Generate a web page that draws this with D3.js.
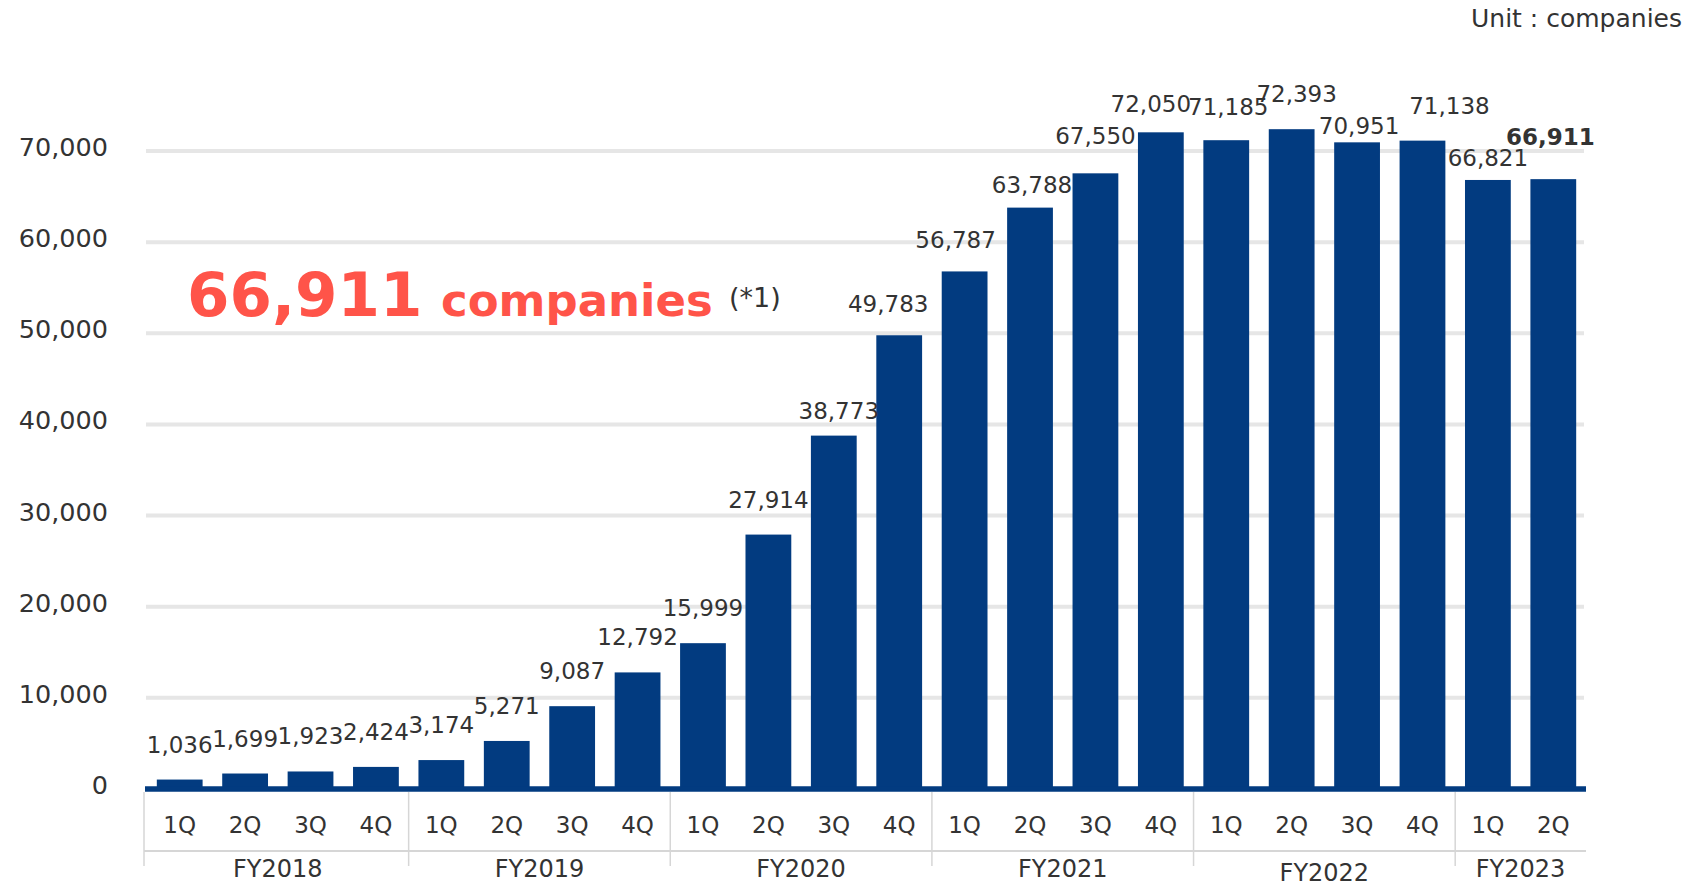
<!DOCTYPE html>
<html><head><meta charset="utf-8">
<script src="https://cdn.jsdelivr.net/npm/d3@7"></script>
<style>body{margin:0;background:#fff;}svg{display:block;font-family:"DejaVu Sans",Verdana,sans-serif;}</style>
</head><body>
<svg id="chart" width="1695" height="888"></svg>
<script>
const fiscalYears = ["FY2018","FY2019","FY2020","FY2021","FY2022","FY2023"];
const quartersPerYear = [4,4,4,4,4,2];
const quarterNames = ["1Q","2Q","3Q","4Q"];
const values = [1036,1699,1923,2424, 3174,5271,9087,12792, 15999,27914,38773,49783,
                56787,63788,67550,72050, 71185,72393,70951,71138, 66821,66911];
const yTicks = [0,10000,20000,30000,40000,50000,60000,70000];
// label nudges (annotation offsets, px)
const labelDx = [0,0,0,0, 0,0,0,0, 0,0,5,-11, -9,2,0,-10, 2,5,2,27, 0,-3];
const labelDy = [0,0,0,0, 0,0,0,0, 0,0,10,4, 4,12,-2,7, 2,0,19,0, 13,-7];

const cats = [];
fiscalYears.forEach((fy,i)=>{ for(let q=0;q<quartersPerYear[i];q++) cats.push({fy, q:quarterNames[q], key:fy+"-"+quarterNames[q]}); });
const data = cats.map((c,i)=>({...c, value:values[i], i}));

const svg = d3.select("#chart");
const left = 147, right = 1586;
const x = d3.scaleBand().domain(data.map(d=>d.key)).range([left,right]).paddingInner(0.3).paddingOuter(0.15);
const y = d3.scaleLinear().domain([0,70000]).range([789,151]);
const barColor = "#023b80";
const textColor = "#333333";

// gridlines
svg.append("g").selectAll("line").data(yTicks.filter(t=>t>0)).join("line")
  .attr("x1",left-1).attr("x2",right-2).attr("y1",d=>y(d)).attr("y2",d=>y(d))
  .attr("stroke","#e6e6e6").attr("stroke-width",4);

// y tick labels
svg.append("g").selectAll("text").data(yTicks).join("text")
  .attr("x",108).attr("y",d=>y(d)-4).attr("text-anchor","end").attr("dominant-baseline","central")
  .attr("font-size",25.5).attr("fill",textColor).text(d=>d3.format(",")(d));

// bars
svg.append("g").selectAll("rect").data(data).join("rect")
  .attr("x",d=>x(d.key)).attr("width",x.bandwidth())
  .attr("y",d=>y(d.value)).attr("height",d=>y(0)-y(d.value))
  .attr("fill",barColor);

// zero axis line
svg.append("line").attr("x1",left-2).attr("x2",right).attr("y1",y(0)).attr("y2",y(0))
  .attr("stroke",barColor).attr("stroke-width",5.5);

// data labels
svg.append("g").selectAll("text").data(data).join("text")
  .attr("x",d=>x(d.key)+x.bandwidth()/2+labelDx[d.i])
  .attr("y",d=>y(d.value)-35+labelDy[d.i])
  .attr("text-anchor","middle").attr("dominant-baseline","central")
  .attr("font-size",23).attr("fill",textColor)
  .attr("font-weight",d=>d.i===data.length-1?"bold":"normal")
  .text(d=>d3.format(",")(d.value));

// category axis: quarter labels
svg.append("g").selectAll("text").data(data).join("text")
  .attr("x",d=>x(d.key)+x.bandwidth()/2).attr("y",825)
  .attr("text-anchor","middle").attr("dominant-baseline","central")
  .attr("font-size",23).attr("fill",textColor).text(d=>d.q);

// separators
const step = x.step();
const groupStarts = [];
let idx = 0;
fiscalYears.forEach((fy,i)=>{ groupStarts.push({fy, start:idx, end:idx+quartersPerYear[i]}); idx += quartersPerYear[i]; });
const sepColor = "#d6d6d6";
svg.append("g").selectAll("line").data(groupStarts).join("line")
  .attr("x1",(d,i)=> i===0 ? left-3 : x(data[d.start].key)-(step-x.bandwidth())/2)
  .attr("x2",(d,i)=> i===0 ? left-3 : x(data[d.start].key)-(step-x.bandwidth())/2)
  .attr("y1",792).attr("y2",866).attr("stroke",sepColor).attr("stroke-width",1.5);
svg.append("line").attr("x1",left-3).attr("x2",right).attr("y1",851).attr("y2",851)
  .attr("stroke",sepColor).attr("stroke-width",2);

// fiscal year labels
svg.append("g").selectAll("text").data(groupStarts).join("text")
  .attr("x",d=>{ const a = x(data[d.start].key)-(step-x.bandwidth())/2, b = x(data[d.end-1].key)+x.bandwidth()+(step-x.bandwidth())/2; return (a+b)/2; })
  .attr("y",(d,i)=>869+(i===4?4:0)).attr("text-anchor","middle").attr("dominant-baseline","central")
  .attr("font-size",24).attr("fill",textColor).text(d=>d.fy);

// unit
svg.append("text").attr("x",1682).attr("y",18).attr("text-anchor","end").attr("dominant-baseline","central")
  .attr("font-size",25).attr("fill",textColor).text("Unit : companies");

// headline
const head = svg.append("text").attr("x",187).attr("y",316).attr("fill","#ff5449").attr("font-weight","bold");
head.append("tspan").attr("font-size",61).text(d3.format(",")(values[values.length-1]));
head.append("tspan").attr("x",441).attr("font-size",45).text("companies");
svg.append("text").attr("x",729).attr("y",307).attr("font-size",27).attr("fill",textColor).text("(*1)");
</script>
</body></html>
